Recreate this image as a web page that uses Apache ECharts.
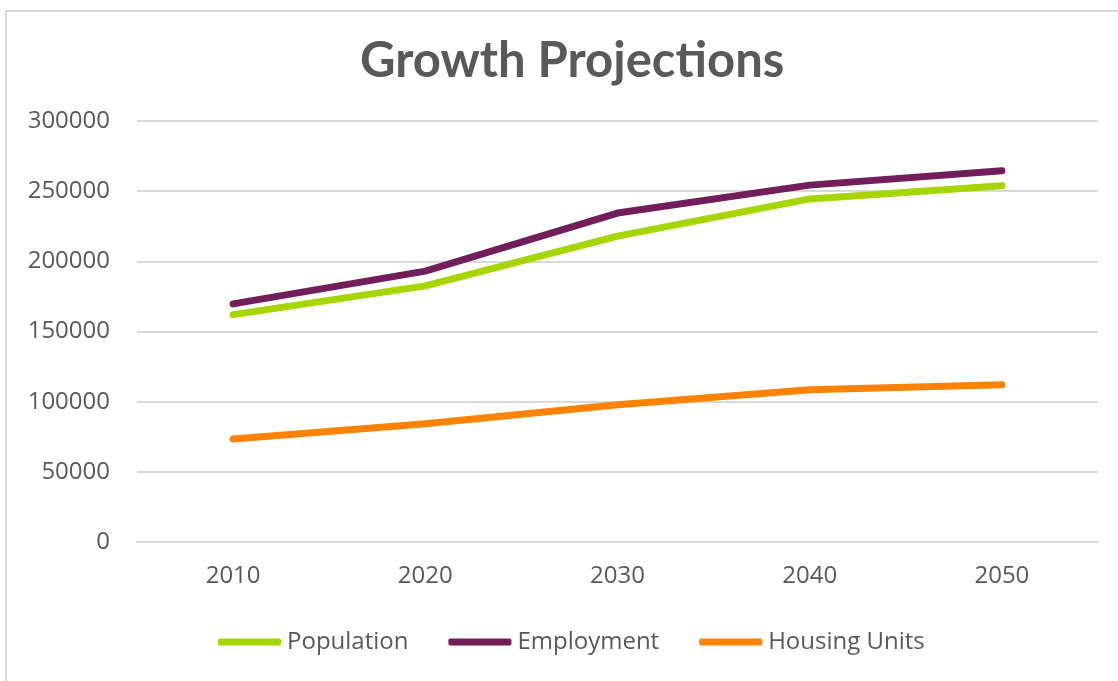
<!DOCTYPE html>
<html>
<head>
<meta charset="utf-8">
<script src="https://cdn.jsdelivr.net/npm/echarts@6/dist/echarts.min.js"></script>
<style>
html,body{margin:0;padding:0;background:#fff;}
#chart{width:1118px;height:681px;}
</style>
</head>
<body>
<div id="chart"></div>
<script>
const categories = ['2010', '2020', '2030', '2040', '2050'];
const population = [162000, 182500, 218000, 244500, 253800];
const employment = [169700, 193000, 234400, 254300, 264500];
const housingUnits = [73400, 84300, 97800, 108500, 112000];
const yTicks = { min: 0, max: 300000, interval: 50000 };

const chart = echarts.init(document.getElementById('chart'));
const lineStyleBase = { width: 7, cap: 'round', join: 'round' };
function mk(name, data, color) {
  return {
    name: name, type: 'line', data: data, symbol: 'none', smooth: false,
    lineStyle: Object.assign({ color: color }, lineStyleBase),
    itemStyle: { color: color },
    emphasis: { disabled: true }
  };
}
chart.setOption({
  animation: false,
  backgroundColor: '#ffffff',
  graphic: [{
    type: 'rect', left: 5, top: 10, silent: true, z: -10,
    shape: { width: 1140, height: 700 },
    style: { fill: '#ffffff', stroke: '#d9d9d9', lineWidth: 2 }
  }],
  title: {
    text: 'Growth Projections', left: 355, top: 32,
    textStyle: { fontFamily: 'Lato', fontWeight: 'bold', fontSize: 49, color: '#595959' }
  },
  legend: {
    bottom: 22, left: 213, itemWidth: 63, itemHeight: 7, itemGap: 40,
    icon: 'roundRect',
    textStyle: { fontFamily: 'Open Sans', fontSize: 24, color: '#595959', padding: [0, 0, 0, 1] },
    data: ['Population', 'Employment', 'Housing Units']
  },
  grid: { left: 137, right: 20, top: 121, bottom: 139, containLabel: false },
  xAxis: {
    type: 'category', data: categories, boundaryGap: true,
    axisLine: { show: true, lineStyle: { color: '#d9d9d9', width: 2 } },
    axisTick: { show: false },
    axisLabel: { fontFamily: 'Open Sans', fontSize: 24, color: '#595959', margin: 22 }
  },
  yAxis: {
    type: 'value', min: yTicks.min, max: yTicks.max, interval: yTicks.interval,
    axisLine: { show: false }, axisTick: { show: false },
    splitLine: { lineStyle: { color: '#d9d9d9', width: 2 } },
    axisLabel: { fontFamily: 'Open Sans', fontSize: 24, color: '#595959', margin: 27,
      formatter: function (v) { return String(v); } }
  },
  series: [
    mk('Population', population, '#a6d600'),
    mk('Employment', employment, '#721e5a'),
    mk('Housing Units', housingUnits, '#ff8300')
  ]
});
</script>
</body>
</html>
